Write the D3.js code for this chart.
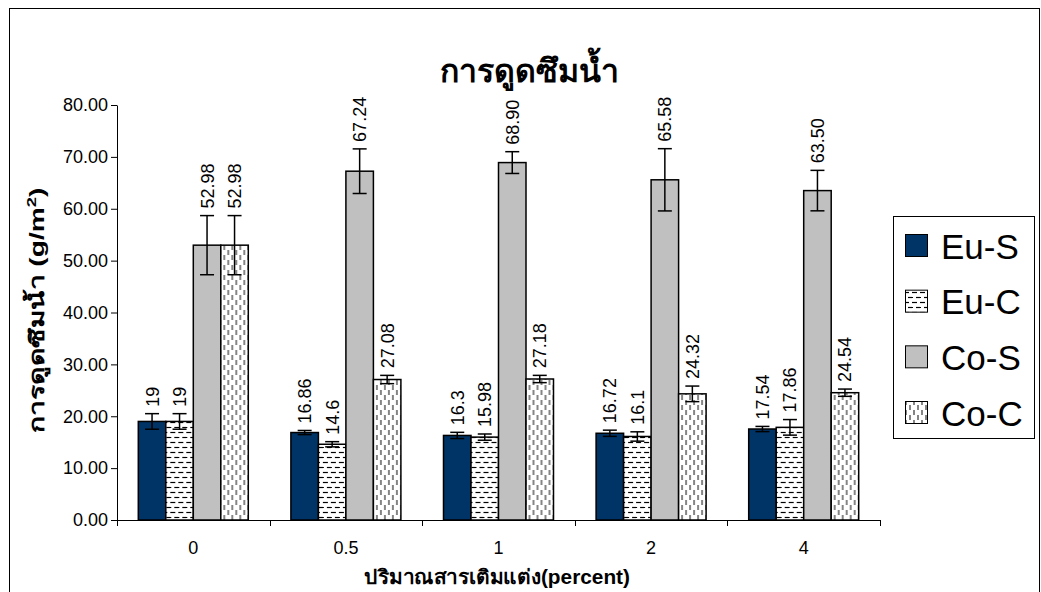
<!DOCTYPE html>
<html><head><meta charset="utf-8">
<script src="https://cdn.jsdelivr.net/npm/d3@7"></script>
<style>body{margin:0;background:#fff;} svg{display:block;}</style>
</head><body>
<svg id="c" width="1041" height="592"></svg>
<script>
const categories = ["0","0.5","1","2","4"];
const seriesNames = ["Eu-S","Eu-C","Co-S","Co-C"];
const euS = [19, 16.86, 16.3, 16.72, 17.54];
const euC = [19, 14.6, 15.98, 16.1, 17.86];
const coS = [52.98, 67.24, 68.90, 65.58, 63.50];
const coC = [52.98, 27.08, 27.18, 24.32, 24.54];
const euSErr = [1.5, 0.4, 0.6, 0.6, 0.5];
const euCErr = [1.5, 0.5, 0.6, 0.9, 1.5];
const coSErr = [5.7, 4.3, 2.1, 6.0, 3.9];
const coCErr = [5.7, 0.8, 0.7, 1.5, 0.7];
const euSLabels = ["19","16.86","16.3","16.72","17.54"];
const euCLabels = ["19","14.6","15.98","16.1","17.86"];
const coSLabels = ["52.98","67.24","68.90","65.58","63.50"];
const coCLabels = ["52.98","27.08","27.18","24.32","24.54"];
const yTicks = [0,10,20,30,40,50,60,70,80];

const series = [
  {name:"Eu-S", vals:euS, err:euSErr, labels:euSLabels, fill:"#003366"},
  {name:"Eu-C", vals:euC, err:euCErr, labels:euCLabels, fill:"url(#patH)"},
  {name:"Co-S", vals:coS, err:coSErr, labels:coSLabels, fill:"#c0c0c0"},
  {name:"Co-C", vals:coC, err:coCErr, labels:coCLabels, fill:"url(#patV)"}
];

const svg = d3.select("#c");
const FONT = "'Liberation Sans', Arial, 'Noto Sans', sans-serif";

const defs = svg.append("defs");
const pH = defs.append("pattern").attr("id","patH").attr("patternUnits","userSpaceOnUse")
  .attr("width",8).attr("height",10);
pH.append("rect").attr("width",8).attr("height",10).attr("fill","#fff");
pH.append("line").attr("x1",0).attr("x2",5).attr("y1",2.5).attr("y2",2.5).attr("stroke","#000").attr("stroke-width",1.2);
pH.append("line").attr("x1",4).attr("x2",9).attr("y1",7.5).attr("y2",7.5).attr("stroke","#000").attr("stroke-width",1.2);
pH.append("line").attr("x1",-4).attr("x2",1).attr("y1",7.5).attr("y2",7.5).attr("stroke","#000").attr("stroke-width",1.2);
const pV = defs.append("pattern").attr("id","patV").attr("patternUnits","userSpaceOnUse")
  .attr("width",8).attr("height",10);
pV.append("rect").attr("width",8).attr("height",10).attr("fill","#fff");
pV.append("line").attr("x1",2).attr("x2",2).attr("y1",0).attr("y2",5).attr("stroke","#333").attr("stroke-width",1.2);
pV.append("line").attr("x1",6).attr("x2",6).attr("y1",5).attr("y2",10).attr("stroke","#333").attr("stroke-width",1.2);

svg.append("rect").attr("x",9.5).attr("y",8.5).attr("width",1030).attr("height",600)
  .attr("fill","none").attr("stroke","#000").attr("stroke-width",1);

const pLeft = 117, pRight = 880, pTop = 105, pBottom = 520;
const x0 = d3.scaleBand().domain(categories).range([pLeft,pRight]).paddingInner(0).paddingOuter(0);
const y = d3.scaleLinear().domain([0,80]).range([pBottom,pTop]);
const groupInner = 110;
const x1 = d3.scaleBand().domain(seriesNames).range([0,groupInner]);

const yAxis = d3.axisLeft(y).tickValues(yTicks).tickFormat(d3.format(".2f")).tickSize(6).tickSizeOuter(0);
const gy = svg.append("g").attr("transform",`translate(${pLeft},0)`).call(yAxis);
gy.select(".domain").attr("stroke","#000");
gy.selectAll("text").attr("font-family",FONT).attr("font-size",18).attr("fill","#000").attr("x",-9);

const gx = svg.append("g").attr("transform",`translate(0,${pBottom})`);
gx.append("line").attr("x1",pLeft).attr("x2",pRight).attr("y1",0.5).attr("y2",0.5).attr("stroke","#000");
const bounds = categories.map(c=>x0(c)).concat([pRight]);
gx.selectAll("line.tk").data(bounds).join("line").attr("class","tk")
  .attr("x1",d=>Math.round(d)+0.5).attr("x2",d=>Math.round(d)+0.5).attr("y1",0).attr("y2",6).attr("stroke","#000");
gx.selectAll("text").data(categories).join("text")
  .attr("x",d=>x0(d)+x0.bandwidth()/2).attr("y",34)
  .attr("text-anchor","middle").attr("font-family",FONT).attr("font-size",18).text(d=>d);

const groups = svg.append("g").selectAll("g").data(categories).join("g")
  .attr("transform",(d)=>`translate(${x0(d)+(x0.bandwidth()-groupInner)/2},0)`);

series.forEach(s=>{
  groups.append("rect")
    .attr("x",(d,i)=>x1(s.name))
    .attr("y",(d,i)=>y(s.vals[i]))
    .attr("width",x1.bandwidth())
    .attr("height",(d,i)=>pBottom-y(s.vals[i]))
    .attr("fill",s.fill).attr("stroke","#000").attr("stroke-width",1.5);
});
series.forEach(s=>{
  const cx = x1(s.name)+x1.bandwidth()/2;
  groups.append("line").attr("x1",cx).attr("x2",cx)
    .attr("y1",(d,i)=>y(s.vals[i]+s.err[i])).attr("y2",(d,i)=>y(s.vals[i]-s.err[i]))
    .attr("stroke","#000").attr("stroke-width",1.5);
  [1,-1].forEach(sg=>{
    groups.append("line").attr("x1",cx-7).attr("x2",cx+7)
      .attr("y1",(d,i)=>y(s.vals[i]+sg*s.err[i])).attr("y2",(d,i)=>y(s.vals[i]+sg*s.err[i]))
      .attr("stroke","#000").attr("stroke-width",1.5);
  });
  groups.append("text")
    .attr("transform",(d,i)=>`translate(${cx+6.5},${y(s.vals[i]+s.err[i])-7}) rotate(-90)`)
    .attr("font-family",FONT).attr("font-size",18).attr("text-anchor","start")
    .text((d,i)=>s.labels[i]);
});

svg.append("text").attr("x",529).attr("y",82).attr("text-anchor","middle")
  .attr("font-family",FONT).attr("font-weight","bold").attr("font-size",32).text("การดูดซึมน้ำ");
svg.append("text").attr("transform","translate(44,310) rotate(-90)").attr("text-anchor","middle")
  .attr("font-family",FONT).attr("font-weight","bold").attr("font-size",20)
  .attr("textLength",245).attr("lengthAdjust","spacingAndGlyphs")
  .html("การดูดซึมน้ำ (g/m<tspan dy='-8' font-size='13'>2</tspan><tspan dy='8'>)</tspan>");
svg.append("text").attr("x",497).attr("y",584).attr("text-anchor","middle")
  .attr("font-family",FONT).attr("font-weight","bold").attr("font-size",20)
  .attr("textLength",266).attr("lengthAdjust","spacingAndGlyphs")
  .text("ปริมาณสารเติมแต่ง(percent)");

const lg = svg.append("g");
lg.append("rect").attr("x",893.5).attr("y",216.5).attr("width",141).attr("height",222)
  .attr("fill","#fff").attr("stroke","#000").attr("stroke-width",1);
const ly = d3.scalePoint().domain(seriesNames).range([246,413]);
series.forEach(s=>{
  lg.append("rect").attr("x",905.5).attr("y",ly(s.name)-11.5).attr("width",22).attr("height",22)
    .attr("fill",s.fill).attr("stroke","#000").attr("stroke-width",1);
  lg.append("text").attr("x",941).attr("y",ly(s.name)+12.5).attr("font-family",FONT)
    .attr("font-size",35).text(s.name);
});
</script>
</body></html>
